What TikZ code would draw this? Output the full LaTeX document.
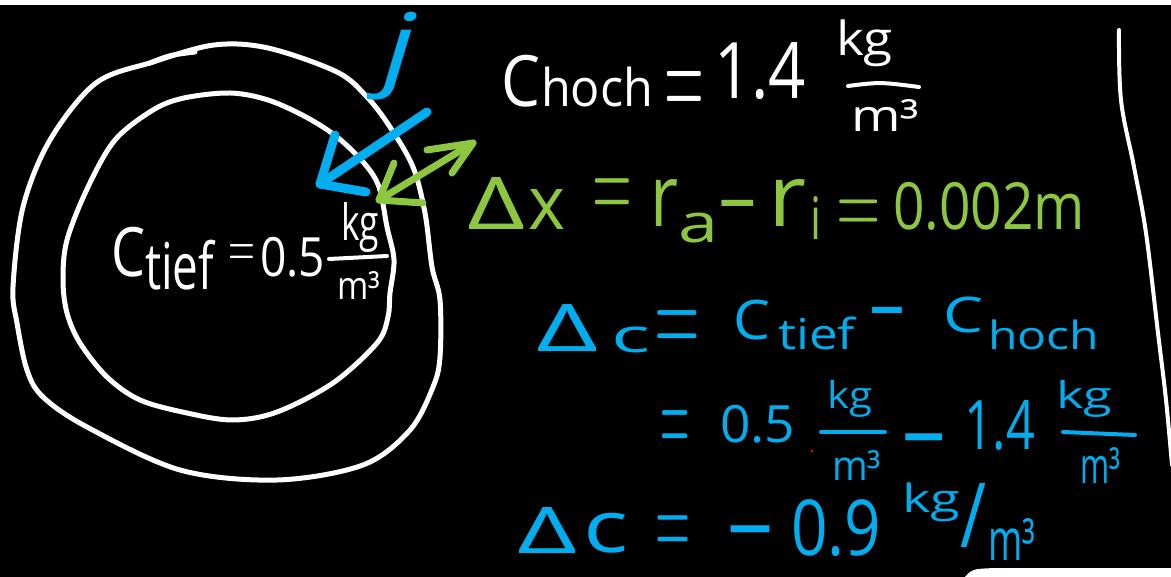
\documentclass[tikz,border=0pt]{standalone}
\usepackage{fontspec}
\setmainfont{Open Sans}
\newfontfamily\lmfont{Latin Modern Roman}
\usepackage{graphicx}
\definecolor{inkblue}{HTML}{00AEEF}
\definecolor{inkgreen}{HTML}{8DC63F}
\newcommand\fitbox[3]{\resizebox*{#1pt}{#2pt}{#3}}
\newcommand\fiteq[2]{\resizebox*{#1pt}{#2pt}{\lmfont\hspace{-0.056em}\raisebox{-0.133em}[0.234em][0pt]{=}\hspace{-0.056em}}}
\newcommand\fitdash[2]{\resizebox*{#1pt}{#2pt}{\hspace{-0.04em}\raisebox{-0.225em}[0.085em][0pt]{-}\hspace{-0.04em}}}
\tikzset{
  txt/.style={inner sep=0pt, outer sep=0pt, anchor=south west, text=#1},
  wline/.style={draw=white, line width=5pt},
  fracw/.style={draw=white, line width=4pt},
  fracb/.style={draw=inkblue, line width=4pt},
  bluearrow/.style={draw=inkblue, line width=9pt},
  greenarrow/.style={draw=inkgreen, line width=7pt}
}
\begin{document}
\begin{tikzpicture}[x=1pt,y=-1pt,line cap=round,line join=round]
\useasboundingbox (0,0) rectangle (1171,577);
\fill[black] (0,0) rectangle (1171,577);
\fill[white] (0,0) rectangle (1171,5);
\fill[white] (965,577) .. controls (972,569) .. (995,568) -- (1171,568) -- (1171,577) -- cycle;
% right vertical line
\draw[draw=white,line width=4pt] plot[smooth,tension=0.6] coordinates {(1119,30) (1121,100) (1134,167) (1146,233) (1158,333) (1166,400) (1172,465)};
% outer blob
\draw[wline] plot[smooth cycle,tension=0.55] coordinates {(214,45) (268,48) (337,72) (367,97) (390,127) (413,167) (425,213) (432,267) (440,300) (440,357) (433,387) (410,430) (363,465) (277,480) (180,470) (87,427) (43,397) (27,370) (17,323) (13,287) (23,207) (50,140) (96,83) (153,62)};
\draw[wline] (150,63) .. controls (170,55) .. (195,52);
% inner blob
\draw[wline] plot[smooth cycle,tension=0.55] coordinates {(230,93) (268,100) (306,117) (337,137) (364,163) (379,187) (387,227) (394,260) (390,293) (388,317) (377,343) (333,383) (277,412) (233,420) (187,413) (140,400) (107,377) (80,343) (67,313) (63,280) (67,240) (88,187) (115,140) (153,110) (184,98)};
% blue arrow j
\coordinate (jstart) at (427,112);
\coordinate (jtip) at (320,184);
\coordinate (jhead1) at (335,135);
\coordinate (jhead2) at (366,192);
\draw[bluearrow] (jstart) -- (jtip);
\draw[bluearrow] (jhead1) -- (jtip) -- (jhead2);
% green double arrow
\coordinate (ga) at (379,200);
\coordinate (gb) at (473,143);
\draw[greenarrow] (ga) -- (gb);
\draw[greenarrow] (394,163) -- (ga) -- (423,203);
\draw[greenarrow] (427,150) -- (gb) -- (452,173);
% j label
\node[txt=inkblue] (jl) at (383,100) {\fitbox{32}{88}{\itshape j}};
% C hoch = 1.4 kg/m3 (white)
\node[txt=white] (w1) at (501,107) {\fitbox{39}{52}{C}};
\node[txt=white] (w2) at (541,107) {\fitbox{112}{40}{hoch}};
\node[txt=white] (w3) at (667,101) {\fiteq{34}{30}};
\node[txt=white] (w4) at (714,100) {\fitbox{92}{57}{1.4}};
\node[txt=white] (w5) at (836,67) {\fitbox{57}{47}{kg}};
\draw[fracw] (848,86) .. controls (880,82) .. (919,87);
\node[txt=white] (w6) at (851,132) {\fitbox{68}{32}{m³}};
% C tief = 0.5 kg/m3 (white)
\node[txt=white] (t1) at (111,277) {\fitbox{34}{50}{C}};
\node[txt=white] (t2) at (145,290) {\fitbox{69}{50}{tief}};
\node[txt=white] (t3) at (230,259) {\fiteq{23}{14}};
\node[txt=white] (t4) at (260,277) {\fitbox{65}{40}{0.5}};
\node[txt=white] (t5) at (341,253) {\fitbox{38}{50}{kg}};
\draw[fracw] (329,259) -- (387,256);
\node[txt=white] (t6) at (337,300) {\fitbox{43}{28}{m³}};
% green line
\node[txt=inkgreen] (g1) at (467,230) {\fitbox{58}{52}{Δ}};
\node[txt=inkgreen] (g2) at (528,230) {\fitbox{37}{40}{x}};
\node[txt=inkgreen] (g3) at (595,205) {\fiteq{34}{26}};
\node[txt=inkgreen] (g4) at (650,227) {\fitbox{28}{47}{r}};
\node[txt=inkgreen] (g5) at (678,243) {\fitbox{40}{30}{a}};
\node[txt=inkgreen] (g6) at (722,207) {\fitdash{32}{7}};
\node[txt=inkgreen] (g7) at (768,227) {\fitbox{38}{47}{r}};
\node[txt=inkgreen] (g8) at (810,240) {\fitbox{11}{43}{i}};
\node[txt=inkgreen] (g9) at (840,222) {\fiteq{38}{22}};
\node[txt=inkgreen] (g10) at (893,230) {\fitbox{192}{48}{0.002m}};
% blue line 1
\node[txt=inkblue] (b1) at (536,352) {\fitbox{62}{47}{Δ}};
\node[txt=inkblue] (b2) at (611,353) {\fitbox{39}{26}{c}};
\node[txt=inkblue] (b3) at (658,339) {\fiteq{39}{28}};
\node[txt=inkblue] (b4) at (733,340) {\fitbox{37}{40}{C}};
\node[txt=inkblue] (b5) at (778,350) {\fitbox{77}{33}{tief}};
\node[txt=inkblue] (b6) at (872,314) {\fitdash{30}{7}};
\node[txt=inkblue] (b7) at (943,333) {\fitbox{40}{36}{C}};
\node[txt=inkblue] (b8) at (988,350) {\fitbox{111}{30}{hoch}};
% blue line 2
\node[txt=inkblue] (b9) at (663,439) {\fiteq{25}{28}};
\node[txt=inkblue] (b10) at (720,443) {\fitbox{75}{38}{0.5}};
\node[txt=inkblue] (b11) at (827,417) {\fitbox{45}{37}{kg}};
\draw[fracb] (821,432) -- (885,432);
\node[txt=inkblue] (b12) at (832,480) {\fitbox{49}{30}{m³}};
\node[txt=inkblue] (b13) at (906,441) {\fitdash{37}{8}};
\node[txt=inkblue] (b14) at (964,450) {\fitbox{71}{50}{1.4}};
\node[txt=inkblue] (b15) at (1056,417) {\fitbox{56}{37}{kg}};
\draw[fracb] (1063,432) -- (1135,435);
\node[txt=inkblue] (b16) at (1080,483) {\fitbox{40}{36}{m³}};
\fill[red] (812,451) circle (1.5);
% blue line 3
\node[txt=inkblue] (b17) at (517,553) {\fitbox{60}{46}{Δ}};
\node[txt=inkblue] (b18) at (583,553) {\fitbox{45}{40}{c}};
\node[txt=inkblue] (b19) at (658,542) {\fiteq{30}{26}};
\node[txt=inkblue] (b20) at (731,533) {\fitdash{39}{8}};
\node[txt=inkblue] (b21) at (791,557) {\fitbox{90}{57}{0.9}};
\node[txt=inkblue] (b22) at (902,522) {\fitbox{58}{39}{kg}};
\node[txt=inkblue] (b23) at (960,547) {\fitbox{26}{64}{/}};
\node[txt=inkblue] (b24) at (988,560) {\fitbox{47}{42}{m³}};
\end{tikzpicture}
\end{document}
